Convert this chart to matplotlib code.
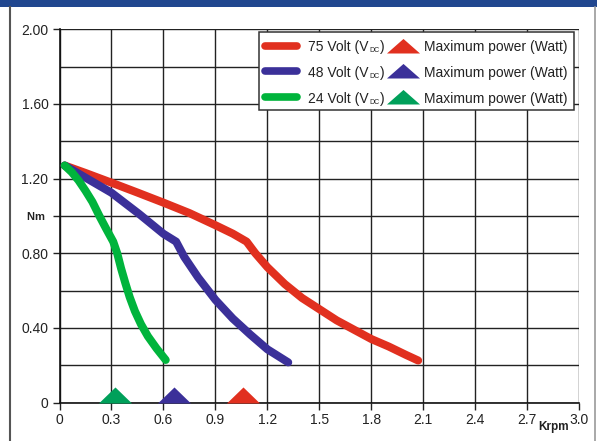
import numpy as np
import matplotlib as mplt
mplt.use("Agg")
import matplotlib.pyplot as plt
from matplotlib.path import Path
from matplotlib.lines import Line2D
import matplotlib.patches as mpatches

plt.rcParams["font.family"] = ["Liberation Sans", "DejaVu Sans"]

# torque curves, speed in Krpm, torque in Nm
x_75v = [0.03, 0.15, 0.30, 0.45, 0.60, 0.75, 0.90, 1.00, 1.08, 1.13, 1.20, 1.30,
         1.40, 1.50, 1.60, 1.70, 1.80, 1.90, 2.00, 2.07]
y_75v = [1.27, 1.23, 1.178, 1.125, 1.071, 1.015, 0.95, 0.905, 0.862, 0.80, 0.725, 0.635,
         0.56, 0.50, 0.44, 0.39, 0.34, 0.30, 0.255, 0.225]

x_48v = [0.03, 0.15, 0.30, 0.46, 0.60, 0.673, 0.72, 0.80, 0.90, 1.00, 1.10, 1.20, 1.32]
y_48v = [1.27, 1.205, 1.124, 1.01, 0.904, 0.862, 0.78, 0.67, 0.55, 0.45, 0.365, 0.285, 0.215]

x_24v = [0.03, 0.07, 0.11, 0.15, 0.19, 0.23, 0.27, 0.31, 0.333, 0.355, 0.38, 0.405,
         0.435, 0.47, 0.51, 0.56, 0.613]
y_24v = [1.27, 1.235, 1.19, 1.135, 1.075, 1.0, 0.93, 0.862, 0.80, 0.72, 0.64, 0.565,
         0.49, 0.42, 0.355, 0.29, 0.228]

# maximum power points (speed in Krpm)
max_power_x = [1.058, 0.66, 0.318]
max_power_y = [0, 0, 0]

series_volts = ["75", "48", "24"]
marker_label = "Maximum power (Watt)"

x_ticks = [0, 0.3, 0.6, 0.9, 1.2, 1.5, 1.8, 2.1, 2.4, 2.7, 3.0]
x_ticklabels = ["0", "0.3", "0.6", "0.9", "1.2", "1.5", "1.8", "2.1", "2.4", "2.7", "3.0"]
y_ticks = [0, 0.4, 0.8, 1.0, 1.2, 1.6, 2.0]
y_ticklabels = ["0", "0.40", "0.80", "Nm ", "1.20", "1.60", "2.00"]

line_colors = ["#e1301f", "#3b3099", "#00b43c"]
marker_colors = ["#e1301f", "#3b3099", "#00a05a"]

# flat triangles sitting on their base
tri_plot = Path([(-1, 0), (1, 0), (0, 0.97), (-1, 0)],
                [Path.MOVETO, Path.LINETO, Path.LINETO, Path.CLOSEPOLY])
tri_legend = Path([(-1, 0), (1, 0), (0, 0.88), (-1, 0)],
                  [Path.MOVETO, Path.LINETO, Path.LINETO, Path.CLOSEPOLY])

W, H = 597, 441
fig = plt.figure(figsize=(W / 100, H / 100), dpi=100)
ax_l, ax_r, ax_t, ax_b = 59.5, 579.3, 29.3, 402.5   # axes frame in pixels
ax = fig.add_axes([ax_l / W, 1 - ax_b / H, (ax_r - ax_l) / W, (ax_b - ax_t) / H])


def ax_x(px):
    return (px - ax_l) / (ax_r - ax_l)


def ax_y(py):
    return (ax_b - py) / (ax_b - ax_t)


# frame of the figure
fig.patches.append(mpatches.Rectangle((0, 1 - 7 / H), 1, 7 / H, transform=fig.transFigure,
                                      facecolor="#21478f", edgecolor="none"))
fig.add_artist(Line2D([10 / W, 10 / W], [0, 1 - 7 / H], transform=fig.transFigure,
                      color="#555555", lw=1.5))
fig.add_artist(Line2D([595 / W, 595 / W], [0, 1 - 7 / H], transform=fig.transFigure,
                      color="#9a9a9a", lw=1.2))

curves = [(x_75v, y_75v), (x_48v, y_48v), (x_24v, y_24v)]
for (xs, ys), c in zip(curves, line_colors):
    ax.plot(xs, ys, color=c, lw=5.8, solid_capstyle="round", solid_joinstyle="round", zorder=3)

for xm, ym, c in zip(max_power_x, max_power_y, marker_colors):
    ax.plot([xm], [ym], marker=tri_plot, markersize=23.8, markeredgewidth=0,
            color=c, linestyle="none", zorder=4, clip_on=False)

ax.set_xlim(0, 3.0)
ax.set_ylim(0, 2.0)
ax.set_xticks(x_ticks)
ax.set_xticklabels(x_ticklabels)
ax.set_yticks(y_ticks)
ax.set_yticklabels(y_ticklabels)
ax.set_yticks(np.arange(0, 2.01, 0.2), minor=True)
ax.tick_params(axis="both", which="major", length=5, width=1, color="#222222",
               labelsize=10, labelcolor="#222222")
ax.tick_params(axis="x", which="major", pad=2.5)
ax.tick_params(axis="y", which="major", pad=3)
ax.tick_params(axis="y", which="minor", length=0)
for lbl in ax.get_yticklabels():
    if lbl.get_text().strip() == "Nm":
        lbl.set_fontweight("bold")
        lbl.set_fontsize(8)

ax.grid(True, which="both", color="#222222", lw=1.0)
ax.set_axisbelow(True)
for side in ["top", "right"]:
    ax.spines[side].set_visible(False)
for side in ["left", "bottom"]:
    ax.spines[side].set_color("#111111")
    ax.spines[side].set_linewidth(1.2)

ax.text(0.951, -0.066, "Krpm", transform=ax.transAxes, ha="center", va="center",
        fontsize=8.5, fontweight="bold", color="#222222")

# legend box drawn by hand so both columns share baselines
ax.add_patch(mpatches.Rectangle((ax_x(259), ax_y(110)), ax_x(574) - ax_x(259),
                                ax_y(32.3) - ax_y(110), transform=ax.transAxes,
                                facecolor="white", edgecolor="#333333", lw=1.1, zorder=5))
row_baselines = [51.2, 76.9, 102.6]
for yb, volt, lc, mc in zip(row_baselines, series_volts, line_colors, marker_colors):
    y_line = ax_y(yb - 5.5)
    ax.add_line(Line2D([ax_x(265), ax_x(297)], [y_line, y_line], transform=ax.transAxes,
                       color=lc, lw=5.5, solid_capstyle="round", zorder=6))
    t1 = ax.text(ax_x(308.5), ax_y(yb), f"{volt} Volt (V", transform=ax.transAxes,
                 ha="left", va="baseline", fontsize=10, color="#222222", zorder=6)
    t2 = ax.annotate("DC", xy=(1, ax_y(yb)), xycoords=(t1, "axes fraction"),
                     xytext=(0.2, -0.8), textcoords="offset points",
                     ha="left", va="baseline", fontsize=5, color="#222222", zorder=6)
    ax.annotate(")", xy=(1, ax_y(yb)), xycoords=(t2, "axes fraction"),
                xytext=(0.2, 0), textcoords="offset points",
                ha="left", va="baseline", fontsize=10, color="#222222", zorder=6)
    ax.plot([ax_x(402.7)], [ax_y(yb + 1.5)], transform=ax.transAxes, marker=tri_legend,
            markersize=23.8, markeredgewidth=0, color=mc, linestyle="none", zorder=6,
            clip_on=False)
    ax.text(ax_x(424), ax_y(yb), marker_label, transform=ax.transAxes,
            ha="left", va="baseline", fontsize=10, color="#222222", zorder=6)

fig.savefig("out.png", dpi=100)
